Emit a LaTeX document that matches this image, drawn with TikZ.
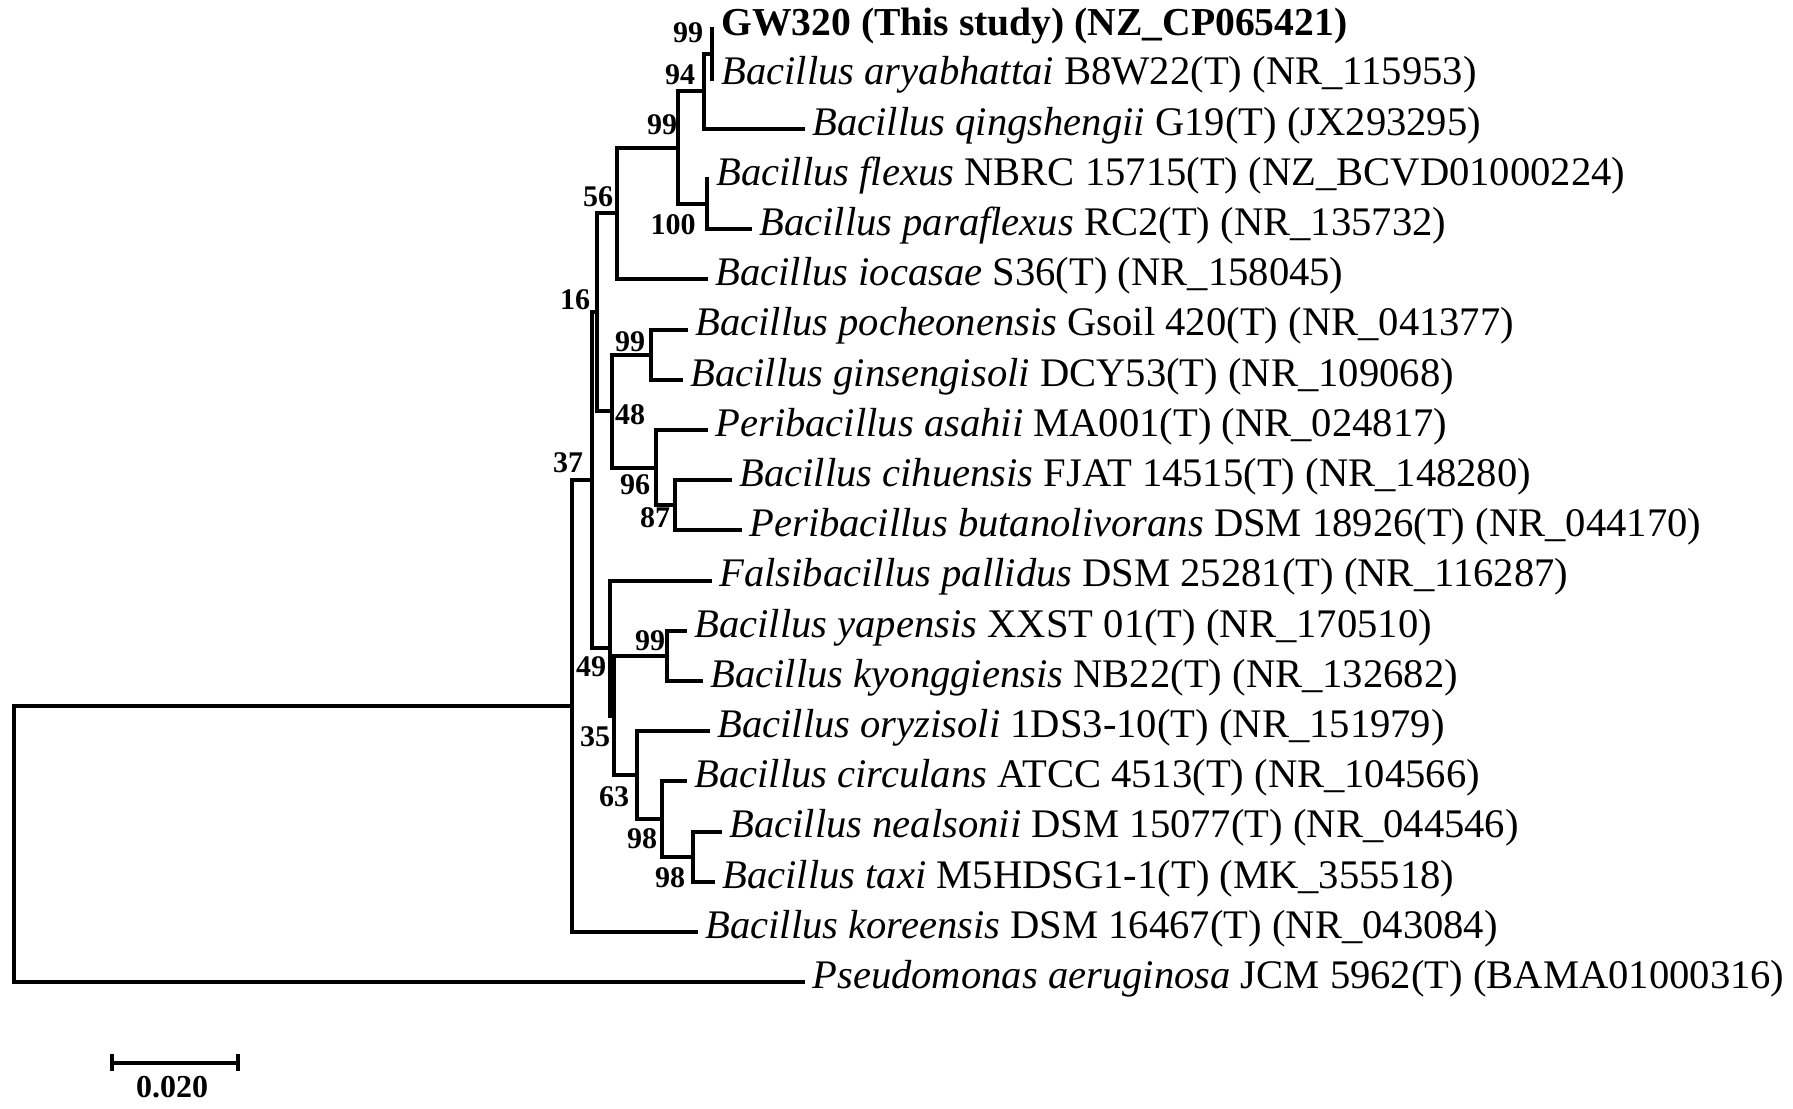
\documentclass[tikz,border=0pt]{standalone}
\usepackage{fontspec}
\setmainfont{Liberation Serif}

\begin{document}
\begin{tikzpicture}[x=0.5pt,y=-0.5pt,
    branch/.style={line width=2pt, line join=miter},
    leaf/.style={anchor=west, inner xsep=3.5pt, inner ysep=0pt,
                 text height=0.64em, text depth=0pt,
                 font=\fontsize{20.3}{24}\selectfont},
    boot/.style={inner sep=0pt, font=\bfseries\fontsize{15}{17}\selectfont}]
    \useasboundingbox (0,0) rectangle (1793,1108);

    % Taxa (tips)
    \node[leaf, font=\bfseries\fontsize{19.8}{24}\selectfont] (gw) at (714,29)
        {GW320 (This study) (NZ\_CP065421)};
    \node[leaf] (ary) at (714,78.5)  {\textit{Bacillus aryabhattai} B8W22(T) (NR\_115953)};
    \node[leaf] (qin) at (805,128.7) {\textit{Bacillus qingshengii} G19(T) (JX293295)};
    \node[leaf] (fle) at (709,178.9) {\textit{Bacillus flexus} NBRC 15715(T) (NZ\_BCVD01000224)};
    \node[leaf] (par) at (752,229.1) {\textit{Bacillus paraflexus} RC2(T) (NR\_135732)};
    \node[leaf] (ioc) at (708,279.3) {\textit{Bacillus iocasae} S36(T) (NR\_158045)};
    \node[leaf] (poc) at (688,329.5) {\textit{Bacillus pocheonensis} Gsoil 420(T) (NR\_041377)};
    \node[leaf] (gin) at (683,379.7) {\textit{Bacillus ginsengisoli} DCY53(T) (NR\_109068)};
    \node[leaf] (asa) at (708,429.9) {\textit{Peribacillus asahii} MA001(T) (NR\_024817)};
    \node[leaf] (cih) at (732,480.1) {\textit{Bacillus cihuensis} FJAT 14515(T) (NR\_148280)};
    \node[leaf] (but) at (742,530.3) {\textit{Peribacillus butanolivorans} DSM 18926(T) (NR\_044170)};
    \node[leaf] (pal) at (712,580.5) {\textit{Falsibacillus pallidus} DSM 25281(T) (NR\_116287)};
    \node[leaf] (yap) at (687,630.7) {\textit{Bacillus yapensis} XXST 01(T) (NR\_170510)};
    \node[leaf] (kyo) at (703,680.9) {\textit{Bacillus kyonggiensis} NB22(T) (NR\_132682)};
    \node[leaf] (ory) at (710,731.1) {\textit{Bacillus oryzisoli} 1DS3-10(T) (NR\_151979)};
    \node[leaf] (cir) at (687,781.3) {\textit{Bacillus circulans} ATCC 4513(T) (NR\_104566)};
    \node[leaf] (nea) at (722,831.5) {\textit{Bacillus nealsonii} DSM 15077(T) (NR\_044546)};
    \node[leaf] (tax) at (715,881.7) {\textit{Bacillus taxi} M5HDSG1-1(T) (MK\_355518)};
    \node[leaf] (kor) at (698,931.9) {\textit{Bacillus koreensis} DSM 16467(T) (NR\_043084)};
    \node[leaf] (pse) at (805,982.1) {\textit{Pseudomonas aeruginosa} JCM 5962(T) (BAMA01000316)};

    % Internal nodes (x = depth, y = middle of children)
    \coordinate (n99a) at (712,53.8);
    \coordinate (n94)  at (704,91.2);
    \coordinate (n100) at (707,204);
    \coordinate (n99b) at (678,147.6);
    \coordinate (n56)  at (617,213.4);
    \coordinate (n99c) at (651,354.6);
    \coordinate (n87)  at (675,505.2);
    \coordinate (n96)  at (656,467.6);
    \coordinate (n48)  at (612,411.1);
    \coordinate (n16)  at (597,312.3);
    \coordinate (n99d) at (667,655.8);
    \coordinate (n98b) at (693,856.6);
    \coordinate (n98a) at (662,819);
    \coordinate (n63)  at (637,775.1);
    \coordinate (n35)  at (614,715.5);
    \coordinate (n49)  at (610,648);
    \coordinate (n37)  at (592,480.2);
    \coordinate (nin)  at (572,706.1);
    \coordinate (root) at (14,844.1);

    % Branches
    \draw[branch] (root) |- (nin)  (root) |- (pse.west);
    \draw[branch] (nin)  |- (n37)  (nin)  |- (kor.west);
    \draw[branch] (n37)  |- (n16)  (n37)  |- (n49);
    \draw[branch] (n16)  |- (n56)  (n16)  |- (n48);
    \draw[branch] (n56)  |- (n99b) (n56)  |- (ioc.west);
    \draw[branch] (n99b) |- (n94)  (n99b) |- (n100);
    \draw[branch] (n94)  |- (n99a) (n94)  |- (qin.west);
    \draw[branch] (n99a) |- (gw.west)  (n99a) |- (ary.west);
    \draw[branch] (n100) |- (fle.west) (n100) |- (par.west);
    \draw[branch] (n48)  |- (n99c) (n48)  |- (n96);
    \draw[branch] (n99c) |- (poc.west) (n99c) |- (gin.west);
    \draw[branch] (n96)  |- (asa.west) (n96)  |- (n87);
    \draw[branch] (n87)  |- (cih.west) (n87)  |- (but.west);
    \draw[branch] (n49)  |- (pal.west) (n49)  |- (n35);
    \draw[branch] (n35)  |- (n99d) (n35)  |- (n63);
    \draw[branch] (n99d) |- (yap.west) (n99d) |- (kyo.west);
    \draw[branch] (n63)  |- (ory.west) (n63)  |- (n98a);
    \draw[branch] (n98a) |- (cir.west) (n98a) |- (n98b);
    \draw[branch] (n98b) |- (nea.west) (n98b) |- (tax.west);

    % Bootstrap values
    \node[boot] (b99a) at (688,33)  {99};
    \node[boot] (b94)  at (680,75)  {94};
    \node[boot] (b99b) at (662,125) {99};
    \node[boot] (b100) at (673,225) {100};
    \node[boot] (b56)  at (598,197) {56};
    \node[boot] (b16)  at (575,300) {16};
    \node[boot] (b99c) at (630,342) {99};
    \node[boot] (b48)  at (630,415) {48};
    \node[boot] (b96)  at (635,485) {96};
    \node[boot] (b87)  at (655,518) {87};
    \node[boot] (b37)  at (568,463) {37};
    \node[boot] (b49)  at (591,667) {49};
    \node[boot] (b35)  at (595,737) {35};
    \node[boot] (b99d) at (650,641) {99};
    \node[boot] (b63)  at (614,797) {63};
    \node[boot] (b98a) at (642,839) {98};
    \node[boot] (b98b) at (670,878) {98};

    % Scale bar
    \coordinate (sbl) at (112,1062.7);
    \coordinate (sbr) at (238,1062.7);
    \draw[branch] (sbl) -- (sbr);
    \draw[branch] ([yshift=4.3pt]sbl) -- ([yshift=-4.3pt]sbl);
    \draw[branch] ([yshift=4.3pt]sbr) -- ([yshift=-4.3pt]sbr);
    \node[boot, font=\bfseries\fontsize{16}{18}\selectfont] (scale) at (172,1087) {0.020};
\end{tikzpicture}
\end{document}
